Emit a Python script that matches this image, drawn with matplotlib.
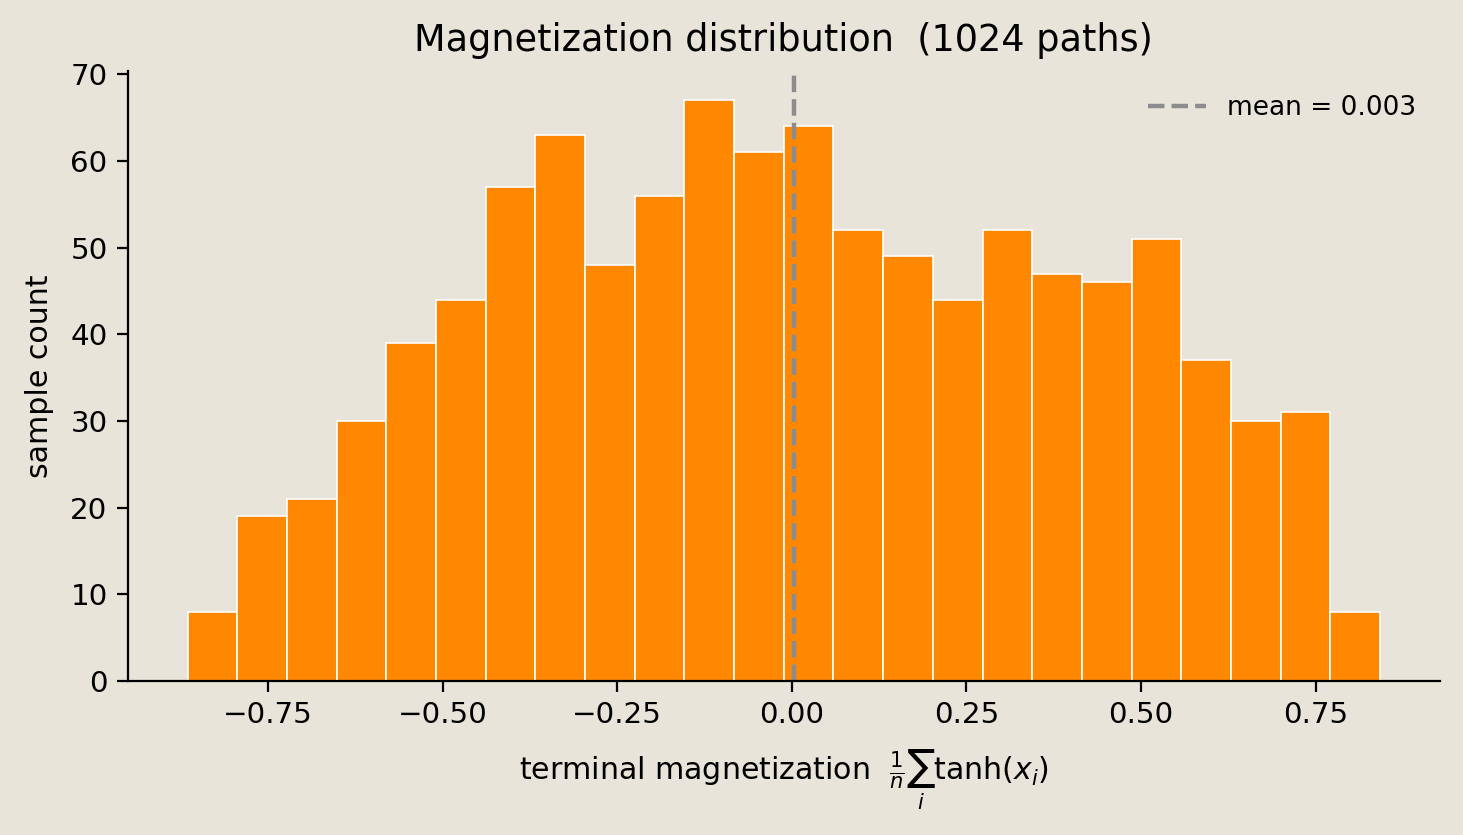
import matplotlib
matplotlib.use("Agg")
import matplotlib.pyplot as plt
import numpy as np

# histogram counts per bin
counts = [8, 19, 21, 30, 39, 44, 57, 63, 48, 56, 67, 61,
          64, 52, 49, 44, 52, 47, 46, 51, 37, 30, 31, 8]
bin_lo, bin_hi = -0.865, 0.842
mean_val = 0.003
n_paths = 1024

BG = "#e8e4da"
BAR = "#ff8800"

edges = np.linspace(bin_lo, bin_hi, len(counts) + 1)
centers = 0.5 * (edges[:-1] + edges[1:])

fig = plt.figure(figsize=(7.315, 4.175), dpi=200, facecolor=BG)
ax = fig.add_axes([0.0875, 0.1845, 0.8965, 0.73])
ax.set_facecolor(BG)

ax.hist(centers, bins=edges, weights=counts, color=BAR,
        edgecolor="white", linewidth=0.6)
ax.axvline(mean_val, color="#8c8c8c", linestyle="--", linewidth=1.6,
           label=f"mean = {mean_val:.3f}")

ax.set_title(f"Magnetization distribution  ({n_paths} paths)", fontsize=13.2, pad=7.5)
ax.set_xlabel(r"terminal magnetization  $\frac{1}{n}\sum_i \tanh(x_i)$",
              fontsize=10.8, labelpad=6.5)
ax.set_ylabel("sample count", fontsize=10.8, labelpad=6)
ax.tick_params(labelsize=10.6, length=3.8)
ax.set_xticks([-0.75, -0.5, -0.25, 0, 0.25, 0.5, 0.75])
for s in ("top", "right"):
    ax.spines[s].set_visible(False)
ax.legend(frameon=False, loc="upper right", fontsize=9.5, handlelength=2.2)

fig.savefig("out.png", dpi=200, facecolor=BG)
